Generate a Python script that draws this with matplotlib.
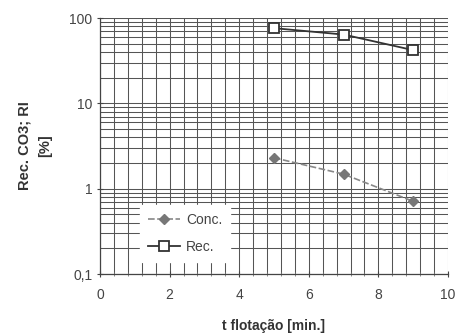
"""Recovery and concentration vs flotation time (log scale)."""

import matplotlib.pyplot as plt
import numpy as np
from matplotlib.ticker import FixedLocator, FuncFormatter, LogLocator, MultipleLocator

# data
t_min = [5, 7, 9]
conc = [2.3, 1.48, 0.71]
rec = [76, 64, 42]

x_ticks = [0, 2, 4, 6, 8, 10]
y_ticks = [0.1, 1, 10, 100]
y_tick_labels = ["0,1", "1", "10", "100"]


def main():
    plt.rcParams["font.family"] = ["Liberation Sans", "DejaVu Sans"]
    fig = plt.figure(figsize=(4.59, 3.36), dpi=100)
    ax = fig.add_axes([100 / 459, 1 - 274 / 336, 348 / 459, 256 / 336])

    ax.set_yscale("log")
    ax.set_xlim(0, 10)
    ax.set_ylim(0.1, 100)

    ax.xaxis.set_major_locator(FixedLocator(x_ticks))
    ax.xaxis.set_minor_locator(MultipleLocator(0.4))
    ax.yaxis.set_major_locator(FixedLocator(y_ticks))
    ax.yaxis.set_major_formatter(FuncFormatter(lambda v, p: y_tick_labels[y_ticks.index(v)] if v in y_ticks else ""))
    ax.yaxis.set_minor_locator(LogLocator(base=10, subs=np.arange(2, 10)))
    ax.yaxis.set_minor_formatter(FuncFormatter(lambda v, p: ""))

    ax.grid(which="both", color="#555555", linewidth=0.75)
    ax.set_axisbelow(True)
    for side in ["top", "right"]:
        ax.spines[side].set_visible(False)
    for side in ["left", "bottom"]:
        ax.spines[side].set_color("#444444")
        ax.spines[side].set_linewidth(0.9)

    ax.tick_params(axis="both", which="major", labelsize=10, colors="#444444", length=4, direction="inout")
    ax.tick_params(axis="x", which="minor", length=3, direction="inout", color="#777777")
    ax.tick_params(axis="y", which="minor", length=0)
    ax.tick_params(axis="x", pad=8)

    ax.plot(t_min, conc, color="#888888", linestyle=(0, (4, 1.5)), linewidth=1.2,
            marker="D", markersize=5, markerfacecolor="#777777", markeredgecolor="#777777",
            label="Conc.")
    ax.plot(t_min, rec, color="#333333", linewidth=1.3,
            marker="s", markersize=7, markerfacecolor="white", markeredgecolor="#333333",
            markeredgewidth=1.3, label="Rec.")

    leg = ax.legend(loc="lower left", bbox_to_anchor=(0.115, 0.045), frameon=True,
                    fontsize=10, handlelength=2.3, handletextpad=0.4, borderpad=0.6,
                    labelspacing=0.95, borderaxespad=0)
    leg.get_frame().set_facecolor("white")
    leg.get_frame().set_edgecolor("white")
    leg.get_frame().set_alpha(1)
    for txt in leg.get_texts():
        txt.set_color("#444444")

    ax.set_xlabel("t flotação [min.]", fontsize=10, fontweight="bold", color="#333333", labelpad=12)
    ax.set_ylabel("Rec. CO3; RI\n[%]", fontsize=10.5, fontweight="bold", color="#333333",
                  labelpad=12, linespacing=1.6)

    fig.savefig("out.png", dpi=100)


if __name__ == "__main__":
    main()
